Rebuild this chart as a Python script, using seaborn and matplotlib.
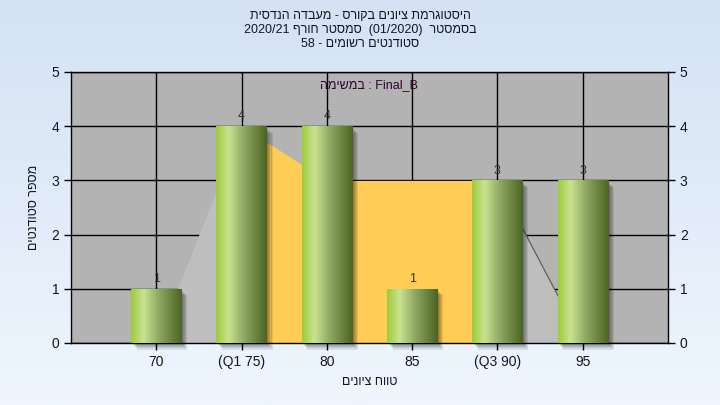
import re
import numpy as np
import pandas as pd
import matplotlib
matplotlib.use('Agg')
import matplotlib.pyplot as plt
import seaborn as sns
from matplotlib.colors import LinearSegmentedColormap
from matplotlib.patches import Rectangle

sns.set_style('white')
plt.rcParams['font.family'] = ['Liberation Sans', 'DejaVu Sans']

# data
categories = ['70', '(Q1 75)', '80', '85', '(Q3 90)', '95']
counts = [1, 4, 4, 1, 3, 3]
area_values = [0, 4, 3, 3, 3, 0]   # the background band (grey tails, yellow inter-quartile)
title_lines = ['היסטוגרמת ציונים בקורס - מעבדה הנדסית',
               'בסמסטר  (01/2020)  סמסטר חורף 2020/21',
               'סטודנטים רשומים - 58']
legend_text = 'Final_B : במשימה'
x_title = 'טווח ציונים'
y_title = 'מספר סטודנטים'


def rtl(s):
    # crude bidi: matplotlib lays out left to right only
    r = s[::-1]
    r = re.sub(r'[0-9A-Za-z_/.]+', lambda m: m.group(0)[::-1], r)
    return r.translate(str.maketrans('()', ')('))


df = pd.DataFrame({'range': categories, 'count': counts})

fig = plt.figure(figsize=(7.2, 4.05), dpi=100)

# light blue gradient background
bg = fig.add_axes([0, 0, 1, 1], zorder=-10)
grad = np.linspace(0, 1, 256).reshape(-1, 1)
bg_cmap = LinearSegmentedColormap.from_list('bg', ['#d4e2f3', '#eff6fe'])
bg.imshow(grad, aspect='auto', cmap=bg_cmap, extent=[0, 1, 0, 1], origin='upper')
bg.axis('off')

ax = fig.add_axes([71 / 720, 1 - 343 / 405, 597 / 720, 271 / 405])
ax.set_facecolor('#b3b3b3')

sns.barplot(data=df, x='range', y='count', order=categories, width=0.59,
            color='#a0c840', ax=ax, zorder=5)

xs = np.arange(len(categories))
vals = np.array(area_values)
ax.fill_between(xs[:2], vals[:2], color='#bebebe', lw=0, zorder=2)
ax.fill_between(xs[1:5], vals[1:5], color='#ffcc55', lw=0, zorder=2)
ax.fill_between(xs[4:], vals[4:], color='#bdbdbd', lw=0, zorder=2)
ax.plot(xs[4:], vals[4:], color='#555555', lw=0.8, zorder=2.5)

bar_cmap = LinearSegmentedColormap.from_list(
    'bar', [(0, '#9dcb3a'), (0.25, '#c9e392'), (0.55, '#8fa862'), (1, '#4a6322')])
hgrad = np.linspace(0, 1, 256).reshape(1, -1)
for p in ax.patches:
    x0, y0, w, h = p.get_x(), p.get_y(), p.get_width(), p.get_height()
    # drop shadow, partly outside the plot
    for k in range(5):
        ax.add_patch(Rectangle((x0 + 0.02 + k * 0.012, y0 - 0.04 - k * 0.02), w, h,
                               facecolor='black', alpha=0.09, lw=0,
                               zorder=3, clip_on=False))
    p.set_facecolor('none')
    p.set_edgecolor('none')
    im = ax.imshow(hgrad, aspect='auto', cmap=bar_cmap,
                   extent=[x0, x0 + w, y0, y0 + h], zorder=5)
    im.set_clip_path(p)
    ax.text(x0 + w / 2, y0 + h + 0.07, str(int(h)), ha='center', va='bottom',
            fontsize=9, color='#333333', zorder=6)

ax.set_xlim(-1, 6)
ax.set_ylim(0, 5)
ax.set_yticks(range(6))
ax.grid(True, color='black', lw=1, zorder=1)
ax.set_axisbelow(True)
for s in ax.spines.values():
    s.set_color('black')
    s.set_linewidth(1)
ax.tick_params(axis='both', direction='out', length=5, width=1, color='black',
               labelsize=10, labelcolor='#141430', left=True, bottom=True,
               right=True, labelright=True)
ax.set_xlabel(rtl(x_title), fontsize=9, color='#141430', labelpad=5)
ax.set_ylabel(rtl(y_title), fontsize=9, color='#141430', labelpad=8)

ax.text(0.5, 0.952, rtl(legend_text), transform=ax.transAxes, ha='center',
        va='center', fontsize=9, color='#330033', zorder=7)

fig.text(0.5, 1 - 30 / 405, '\n'.join(rtl(t) for t in title_lines), ha='center',
         va='center', fontsize=9, color='#141430', linespacing=1.2)

fig.savefig('out.png', dpi=100)
